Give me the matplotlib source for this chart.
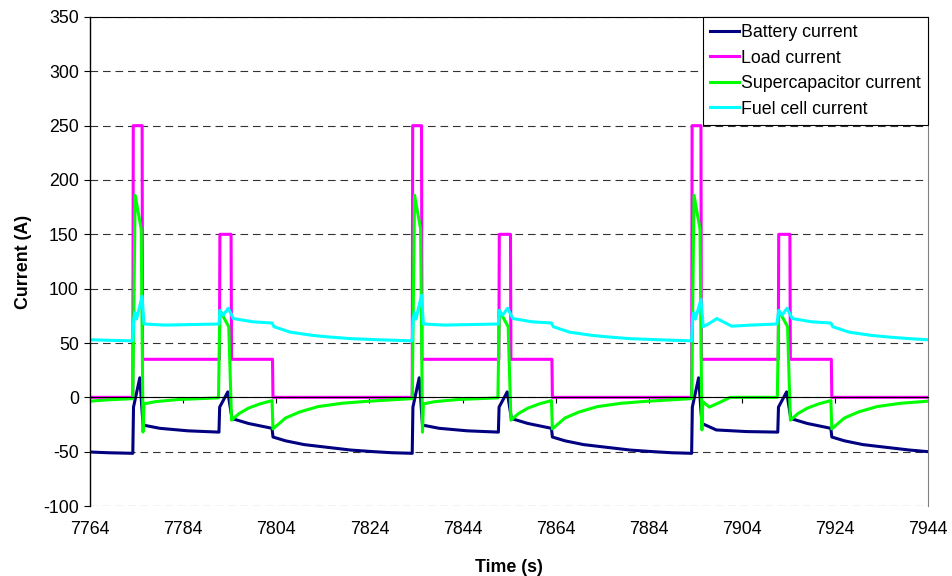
import matplotlib
matplotlib.use("Agg")
import matplotlib.pyplot as plt

plt.rcParams["font.family"] = ["Liberation Sans", "DejaVu Sans"]
plt.rcParams["lines.scale_dashes"] = False
plt.rcParams["axes.unicode_minus"] = False

# Battery current (A)
batt_t = [7764, 7768, 7773.2, 7773.35, 7774.7, 7775.4, 7779, 7785, 7791.7, 7791.85, 7793.6, 7794.5,
          7798, 7803.1, 7803.3, 7806, 7810, 7815, 7820, 7825, 7829, 7833.2,
          7833.35, 7834.7, 7835.4, 7839, 7845, 7851.7, 7851.85, 7853.6, 7854.5,
          7858, 7863.1, 7863.3, 7866, 7870, 7875, 7880, 7885, 7889, 7893.2,
          7893.35, 7894.7, 7895.4, 7898.5, 7905, 7911.7, 7911.85, 7913.6, 7914.5,
          7918, 7923.1, 7923.3, 7926, 7930, 7935, 7940, 7944]
batt_i = [-50.3, -51, -51.5, -9, 18, -25.5, -28.5, -30.8, -32, -9, 5, -19.5,
          -24, -28.5, -36.5, -40, -43.5, -46, -48.5, -50, -51, -51.5,
          -9, 18, -25.5, -28.5, -30.8, -32, -9, 5, -19.5,
          -24, -28.5, -36.5, -40, -43.5, -46, -48.5, -50, -51, -51.5,
          -9, 18, -24, -30, -31.5, -32, -9, 5, -19.5,
          -24, -28.5, -36.5, -40, -43.5, -46, -48.5, -50]

# Load current (A)
load_t = [7764, 7773.2, 7773.3, 7775.2, 7775.3, 7791.8, 7791.9, 7794.3, 7794.4, 7803.2, 7803.3,
          7833.2, 7833.3, 7835.2, 7835.3, 7851.8, 7851.9, 7854.3, 7854.4, 7863.2, 7863.3,
          7893.2, 7893.3, 7895.2, 7895.3, 7911.8, 7911.9, 7914.3, 7914.4, 7923.2, 7923.3, 7944]
load_i = [0, 0, 250, 250, 35, 35, 150, 150, 35, 35, 0,
          0, 250, 250, 35, 35, 150, 150, 35, 35, 0,
          0, 250, 250, 35, 35, 150, 150, 35, 35, 0, 0]

# Supercapacitor current (A)
sc_t = [7764, 7768, 7773.2, 7773.7, 7775.0, 7775.4, 7775.6, 7778, 7783, 7791.6, 7791.9, 7793.8, 7794.4,
        7796, 7798, 7800.5, 7803.1, 7803.3, 7806, 7809, 7813, 7818, 7823, 7828, 7833.2,
        7833.7, 7835.0, 7835.4, 7835.6, 7838, 7843, 7851.6, 7851.9, 7853.8, 7854.4,
        7856, 7858, 7860.5, 7863.1, 7863.3, 7866, 7869, 7873, 7878, 7883, 7888, 7893.2,
        7893.7, 7895.0, 7895.4, 7895.6, 7897, 7899.3, 7901.5, 7911.6, 7911.9, 7913.8, 7914.4,
        7916, 7918, 7920.5, 7923.1, 7923.3, 7926, 7929, 7933, 7938, 7944]
sc_i = [-3.5, -2.3, -1.2, 186, 155, -32, -6, -4, -2, -0.5, 80, 65, -21,
        -15, -10, -6, -3, -29, -19, -13.5, -8.5, -5.5, -3.8, -2.5, -1.2,
        186, 155, -32, -6, -4, -2, -0.5, 80, 65, -21,
        -15, -10, -6, -3, -29, -19, -13.5, -8.5, -5.5, -3.8, -2.5, -1.2,
        186, 155, -30, -4, -9, -4.5, 0, 0, 80, 65, -21,
        -15, -10, -6, -3, -29, -19, -13.5, -8.5, -5.5, -3.5]

# Fuel cell current (A)
fc_t = [7764, 7768, 7773.2, 7773.4, 7773.7, 7774.0, 7775.2, 7775.6, 7780, 7786, 7791.7, 7791.9,
        7792.6, 7793.7, 7794.8, 7799, 7803.1, 7803.5, 7807, 7811.8, 7815.5, 7820, 7826, 7833.2,
        7833.4, 7833.7, 7834.0, 7835.2, 7835.6, 7840, 7846, 7851.7, 7851.9,
        7852.6, 7853.7, 7854.8, 7859, 7863.1, 7863.5, 7867, 7871.8, 7875.5, 7880, 7886, 7893.2,
        7893.4, 7893.7, 7894.0, 7895.2, 7895.7, 7897, 7898.6, 7899.3, 7901.8, 7906, 7911.5, 7911.9,
        7912.6, 7913.7, 7914.8, 7919, 7923.1, 7923.5, 7927, 7931.8, 7935.5, 7940, 7944]
fc_i = [53, 52.5, 52, 72, 78, 72, 93, 67.5, 66.5, 67, 67.5, 80,
        75.5, 82, 72.5, 69.5, 68.4, 65, 60, 57, 55.5, 54, 53, 52,
        72, 78, 72, 94, 67.5, 66.5, 67, 67.5, 80,
        75.5, 82, 72.5, 69.5, 68.4, 65, 60, 57, 55.5, 54, 53, 52,
        72, 78, 72, 90, 65, 68, 72.5, 71, 65.5, 66.5, 67.5, 80,
        75.5, 82, 72.5, 69.5, 68.4, 65, 60, 57, 55.5, 54, 53]

x_ticks = list(range(7764, 7945, 20))
y_ticks = list(range(-100, 351, 50))

FS = 12.8

fig = plt.figure(figsize=(9.52, 5.76), dpi=100)
ax = fig.add_axes([0.0945, 0.1215, 0.8805, 0.849])

ax.plot(batt_t, batt_i, color="#000080", lw=2.2, label="Battery current")
ax.plot(load_t, load_i, color="#FF00FF", lw=2.2, label="Load current")
ax.plot(sc_t, sc_i, color="#00FF00", lw=2.2, label="Supercapacitor current")
ax.plot(fc_t, fc_i, color="#00FFFF", lw=2.2, label="Fuel cell current")

ax.set_xlim(7764, 7944)
ax.set_ylim(-100, 350)
ax.set_yticks(y_ticks)
ax.set_xticks(x_ticks)

ax.yaxis.grid(True, color="#333333", linestyle=(0, (5.5, 3.5)), linewidth=0.8)
ax.set_axisbelow(True)

# x axis drawn at zero, labels kept at the bottom
ax.spines["bottom"].set_position(("data", 0))
ax.spines["bottom"].set_linewidth(0.8)
ax.spines["left"].set_linewidth(1.0)
ax.spines["top"].set_linewidth(0.8)
ax.spines["right"].set_color("#808080")
ax.spines["right"].set_linewidth(0.8)
ax.tick_params(axis="x", direction="out", length=4, width=0.8, labelbottom=False)
ax.tick_params(axis="y", direction="out", length=4, width=0.8, labelsize=FS, pad=4)
ax.set_ylabel("Current (A)", fontsize=FS, fontweight="bold", labelpad=8)

ax2 = ax.twiny()
ax2.set_xlim(ax.get_xlim())
ax2.set_xticks(x_ticks)
ax2.xaxis.set_ticks_position("bottom")
ax2.xaxis.set_label_position("bottom")
for s in ax2.spines.values():
    s.set_visible(False)
ax2.tick_params(axis="x", length=0, labelsize=FS, pad=11)
ax2.set_xlabel("Time (s)", fontsize=FS, fontweight="bold", labelpad=15)

leg = ax.legend(loc="upper right", bbox_to_anchor=(1.0, 1.0), borderaxespad=0,
                fontsize=FS, frameon=True, fancybox=False, framealpha=1,
                edgecolor="#000000", handlelength=1.6, handletextpad=0.15,
                labelspacing=0.48, borderpad=0.4)
leg.get_frame().set_linewidth(0.8)
leg.set_zorder(5)

fig.savefig("out.png", dpi=100)
